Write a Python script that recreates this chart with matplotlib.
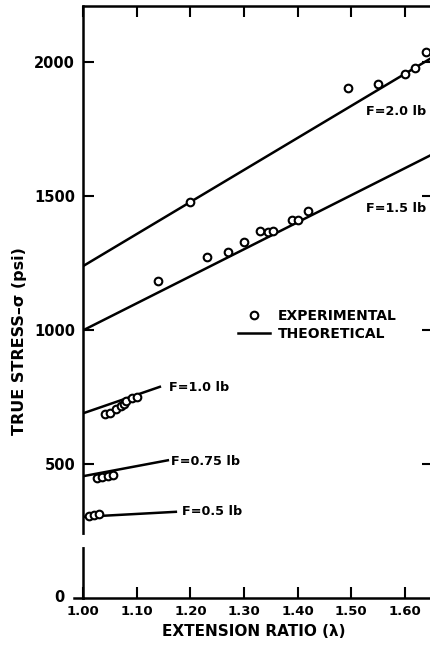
import matplotlib.pyplot as plt
from matplotlib.lines import Line2D

plt.rcParams['font.family'] = ['DejaVu Sans']
plt.rcParams['font.weight'] = 'bold'

# theoretical lines: (lambda start, lambda end), (stress start, stress end)
loads = ["F=2.0 lb", "F=1.5 lb", "F=1.0 lb", "F=0.75 lb", "F=0.5 lb"]
line_lam = [(1.00, 1.70), (1.00, 1.70), (1.00, 1.145), (1.00, 1.16), (1.00, 1.175)]
line_sig = [(1240, 2076), (1000, 1705), (690, 790), (455, 515), (303, 322)]

# experimental points
exp_lam = [
    [1.20, 1.495, 1.55, 1.60, 1.62, 1.64],
    [1.14, 1.23, 1.27, 1.30, 1.33, 1.345, 1.355, 1.39, 1.40, 1.42],
    [1.04, 1.05, 1.06, 1.07, 1.075, 1.08, 1.09, 1.10],
    [1.025, 1.035, 1.045, 1.055],
    [1.01, 1.02, 1.03],
]
exp_sig = [
    [1480, 1905, 1920, 1955, 1980, 2040],
    [1182, 1272, 1290, 1328, 1372, 1368, 1370, 1410, 1412, 1445],
    [688, 692, 705, 718, 725, 735, 745, 752],
    [447, 451, 455, 459],
    [305, 309, 312],
]

# label anchor (lambda, stress)
lab_lam = [1.527, 1.527, 1.159, 1.163, 1.185]
lab_sig = [1816, 1453, 787, 509, 322]

xticks = [1.00, 1.10, 1.20, 1.30, 1.40, 1.50, 1.60]
yticks = [500, 1000, 1500, 2000]

fig = plt.figure(figsize=(4.30, 6.49), dpi=100)
ax = fig.add_axes([0.194, 0.0786, 0.813, 0.912])

for i in range(len(loads)):
    ax.plot(line_lam[i], line_sig[i], color='black', lw=1.8, solid_capstyle='butt')
    ax.plot(exp_lam[i], exp_sig[i], 'o', mfc='white', mec='black', ms=5.5, mew=1.5)
    ax.text(lab_lam[i], lab_sig[i], loads[i], fontsize=9.2, fontweight='bold',
            ha='left', va='center')

ax.set_xlim(1.00, 1.653)
ax.set_ylim(0, 2210)
ax.set_xticks(xticks)
ax.set_xticklabels(["%.2f" % t for t in xticks])
ax.set_yticks(yticks)
ax.set_yticklabels([str(t) for t in yticks])
ax.tick_params(direction='in', length=8, width=1.5, top=True, right=True)
ax.tick_params(axis='x', labelsize=9.5, pad=5)
ax.tick_params(axis='y', labelsize=10.5, pad=6)
for s in ax.spines.values():
    s.set_linewidth(1.8)

# bottom axis runs a little past the zero mark, left axis has a small break
ax.plot([0.982, 1.0], [0, 0], color='black', lw=1.8, clip_on=False)
ax.plot([1.0, 1.0], [197, 228], color='white', lw=3, clip_on=False, zorder=5)
ax.text(0.965, 0, "0", fontsize=10.5, fontweight='bold', ha='right', va='center')

ax.set_xlabel("EXTENSION RATIO (λ)", fontsize=11, fontweight='bold')
ax.xaxis.set_label_coords(0.488, -0.044)
ax.set_ylabel("TRUE STRESS–σ (psi)", fontsize=11.5, fontweight='bold')
ax.yaxis.set_label_coords(-0.162, 0.434)

handles = [
    Line2D([], [], ls='none', marker='o', mfc='white', mec='black', ms=5.5, mew=1.5),
    Line2D([], [], color='black', lw=1.8),
]
ax.legend(handles, ["EXPERIMENTAL", "THEORETICAL"], frameon=False,
          loc='center left', bbox_to_anchor=(0.553, 0.4995),
          bbox_transform=fig.transFigure, fontsize=10, handlelength=2.3,
          handletextpad=0.6, labelspacing=0.25, borderpad=0, borderaxespad=0)

fig.savefig("out.png", dpi=100)
